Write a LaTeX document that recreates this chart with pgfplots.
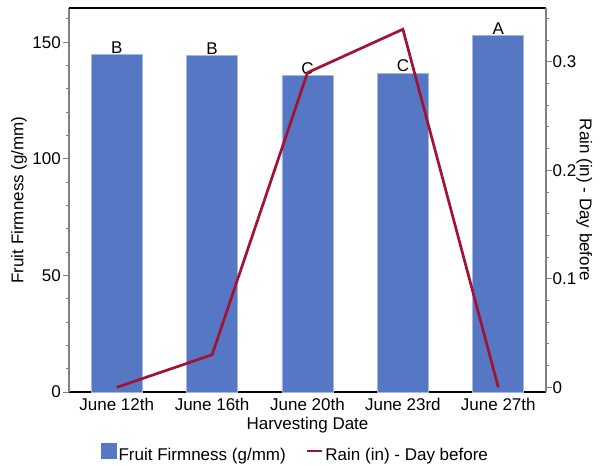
\documentclass[border=0pt]{standalone}
\usepackage{fontspec}
\setmainfont{Liberation Sans}
\usepackage{pgfplots}
\pgfplotsset{compat=1.18}
\definecolor{barblue}{RGB}{86,119,196}
\definecolor{baredge}{RGB}{165,182,226}
\definecolor{rainred}{RGB}{163,18,50}
\definecolor{axgray}{RGB}{128,128,128}

\pgfplotstableread{
x y lab
0 144.7 B
1 144.3 B
2 135.6 C
3 136.8 C
4 152.9 A
}\firmness

\pgfplotstableread{
x y
0 0
1 0.03
2 0.29
3 0.33
4 0
}\rain

\begin{document}
\fontsize{17}{20}\selectfont
\begin{tikzpicture}[font=\fontsize{17}{20}\selectfont]
\path[use as bounding box] (-69pt,-74pt) rectangle (531pt,392pt);
\pgfplotsset{
  common/.style={
    at={(0pt,0pt)}, anchor=south west,
    scale only axis, width=477pt, height=384pt,
    xmin=-0.5, xmax=4.5,
    /pgf/number format/assume math mode=true,
    tick label style={font=\fontsize{17}{20}\selectfont, black},
    label style={font=\fontsize{17}{20}\selectfont, black},
    tick align=outside, major tick length=6pt, minor tick length=3pt,
    y tick style={axgray, line width=1pt},
    x tick style={draw=none},
  }
}
\begin{axis}[common,
  ymin=0, ymax=164.7,
  axis x line*=bottom, axis y line*=left,
  x axis line style={black, line width=1.2pt, -},
  y axis line style={axgray, line width=1.5pt, -},
  xtick={0,1,2,3,4},
  xticklabels={June 12th, June 16th, June 20th, June 23rd, June 27th},
  xticklabel style={inner sep=0pt, anchor=north},
  ytick={0,50,100,150},
  minor ytick={10,20,30,40,60,70,80,90,110,120,130,140,160},
  yticklabel style={inner xsep=2pt},
  xlabel={Harvesting Date},
  ylabel={Fruit Firmness (g/mm)},
  every axis x label/.style={at={(axis description cs:0.5,-0.086)}, anchor=center},
  every axis y label/.style={at={(axis description cs:-0.105,0.5)}, anchor=center, rotate=90},
]
\addplot[ybar, bar width=51pt, fill=barblue, draw=baredge, line width=0.8pt,
  nodes near coords, point meta=explicit symbolic,
  every node near coord/.append style={text=black, inner sep=0pt, anchor=south, yshift=1pt, font=\fontsize{17}{20}\selectfont}]
  table[x=x, y=y, meta=lab] {\firmness};
\end{axis}
\begin{axis}[common,
  ymin=-0.0043, ymax=0.3496,
  axis x line*=top, axis y line*=right,
  x axis line style={black, line width=1.2pt, -},
  y axis line style={axgray, line width=1.5pt, -},
  xtick=\empty,
  ytick={0,0.1,0.2,0.3},
  minor ytick={0.02,0.04,0.06,0.08,0.12,0.14,0.16,0.18,0.22,0.24,0.26,0.28,0.32,0.34},
  yticklabel style={inner xsep=0.5pt},
  ylabel={Rain (in) - Day before},
  every axis y label/.style={at={(axis description cs:1.08,0.5)}, anchor=center, rotate=-90},
  legend columns=2,
  legend style={at={(0.475,-0.159)}, anchor=center, draw=none, fill=none,
    font=\fontsize{17}{20}\selectfont,
    nodes={inner xsep=2pt, inner ysep=0pt},
    /tikz/every even column/.append style={column sep=18pt}},
]
\addlegendimage{legend image code/.code={\fill[barblue] (0pt,-2pt) rectangle (15pt,13pt);}}
\addlegendentry{Fruit Firmness (g/mm)}
\addplot[rainred, line width=2.7pt, mark=none,
  legend image code/.code={\draw[rainred, line width=2.7pt] (0pt,5pt) -- (15pt,5pt);}]
  table[x=x, y=y] {\rain};
\addlegendentry{Rain (in) - Day before}
\end{axis}
\end{tikzpicture}
\end{document}
